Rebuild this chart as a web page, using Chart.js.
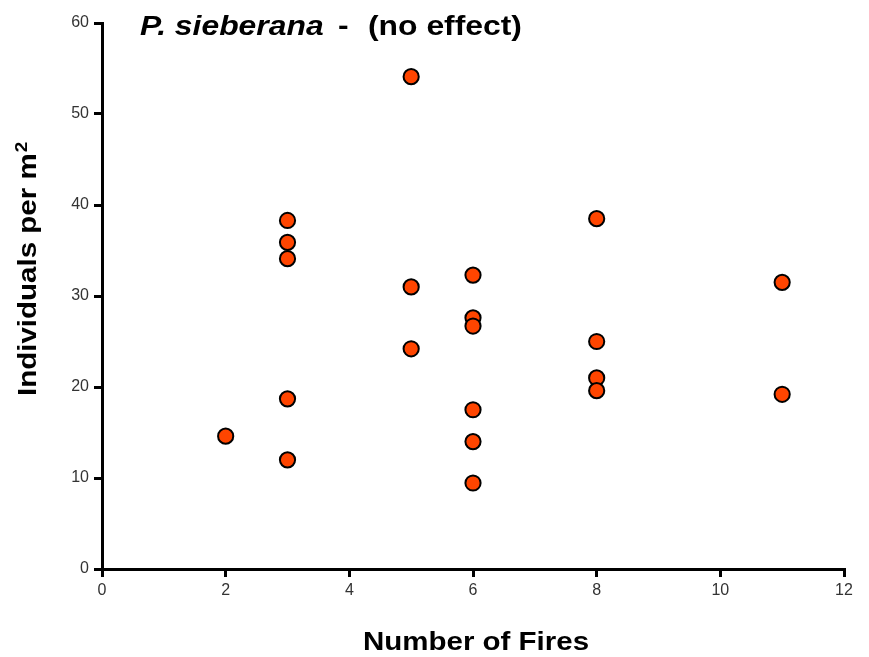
<!DOCTYPE html>
<html>
<head>
<meta charset="utf-8">
<script src="https://cdn.jsdelivr.net/npm/chart.js@4/dist/chart.umd.min.js"></script>
<style>
  html, body { margin: 0; padding: 0; background: #fff; }
  #wrap { width: 869px; height: 657px; }
</style>
</head>
<body>
<div id="wrap"><canvas id="fires"></canvas></div>
<script>
// P. sieberana density against fire frequency
const fireCounts = [2, 3, 3, 3, 3, 3, 5, 5, 5, 6, 6, 6, 6, 6, 6, 8, 8, 8, 8, 11, 11];
const density = [14.6, 38.3, 35.9, 34.1, 18.7, 12.0, 54.1, 31.0, 24.2,
                 32.3, 27.6, 26.7, 17.5, 14.0, 9.45, 38.5, 25.0, 21.0, 19.6, 31.5, 19.2];

const xTicks = [0, 2, 4, 6, 8, 10, 12];
const yTicks = [0, 10, 20, 30, 40, 50, 60];

const points = fireCounts.map((f, i) => ({ x: f, y: density[i] }));

// titles drawn by hand: mixed italic/bold and a slightly wide face
const labelsPlugin = {
  id: 'figureText',
  afterDraw(chart) {
    const ctx = chart.ctx;
    const sx = 1.18;
    ctx.save();
    ctx.fillStyle = '#000';
    ctx.textBaseline = 'alphabetic';
    ctx.textAlign = 'left';

    // heading
    ctx.save();
    ctx.translate(140, 35);
    ctx.scale(sx, 1);
    ctx.font = 'italic bold 27px "Liberation Sans", Arial, sans-serif';
    ctx.fillText('P. sieberana', 0, 0);
    ctx.restore();

    ctx.save();
    ctx.translate(338, 35);
    ctx.scale(sx, 1);
    ctx.font = 'bold 27px "Liberation Sans", Arial, sans-serif';
    ctx.fillText('-', 0, 0);
    ctx.restore();

    ctx.save();
    ctx.translate(368, 35);
    ctx.scale(sx, 1);
    ctx.font = 'bold 27px "Liberation Sans", Arial, sans-serif';
    ctx.fillText('(no effect)', 0, 0);
    ctx.restore();

    // x axis title
    const xs = chart.scales.x;
    ctx.save();
    ctx.translate((xs.left + xs.right) / 2 + 3, 650);
    ctx.scale(sx, 1);
    ctx.textAlign = 'center';
    ctx.font = 'bold 25px "Liberation Sans", Arial, sans-serif';
    ctx.fillText('Number of Fires', 0, 0);
    ctx.restore();

    // y axis title, rotated, with raised "2"
    ctx.save();
    ctx.translate(36, 396);
    ctx.rotate(-Math.PI / 2);
    ctx.scale(sx, 1);
    ctx.font = 'bold 25px "Liberation Sans", Arial, sans-serif';
    const main = 'Individuals per m';
    ctx.fillText(main, 0, 0);
    const w = ctx.measureText(main).width;
    ctx.font = 'bold 16px "Liberation Sans", Arial, sans-serif';
    ctx.fillText('2', w + 1, -9);
    ctx.restore();

    ctx.restore();
  }
};

const axisFont = { family: '"Liberation Sans", Arial, sans-serif', size: 16 };

new Chart(document.getElementById('fires'), {
  type: 'scatter',
  data: {
    datasets: [{
      data: points,
      backgroundColor: '#ff4500',
      borderColor: '#000',
      borderWidth: 2,
      pointRadius: 7.6,
      pointHoverRadius: 7.6
    }]
  },
  options: {
    responsive: true,
    maintainAspectRatio: false,
    animation: false,
    events: [],
    layout: { padding: { top: 23, right: 25, left: 0, bottom: 0 } },
    plugins: {
      legend: { display: false },
      tooltip: { enabled: false }
    },
    scales: {
      x: {
        type: 'linear',
        min: 0,
        max: 12,
        afterBuildTicks(scale) { scale.ticks = xTicks.map(v => ({ value: v })); },
        afterFit(scale) { scale.height = 88; },
        ticks: { color: '#333', font: axisFont, padding: 4, maxRotation: 0 },
        grid: { drawOnChartArea: false, drawTicks: true, tickLength: 8, lineWidth: 3, color: '#000' },
        border: { display: true, width: 3, color: '#000' }
      },
      y: {
        min: 0,
        max: 60,
        afterBuildTicks(scale) { scale.ticks = yTicks.map(v => ({ value: v })); },
        afterFit(scale) { scale.width = 102; },
        ticks: { color: '#333', font: axisFont, padding: 5 },
        grid: { drawOnChartArea: false, drawTicks: true, tickLength: 8, lineWidth: 3, color: '#000' },
        border: { display: true, width: 3, color: '#000' }
      }
    }
  },
  plugins: [labelsPlugin]
});
</script>
</body>
</html>
